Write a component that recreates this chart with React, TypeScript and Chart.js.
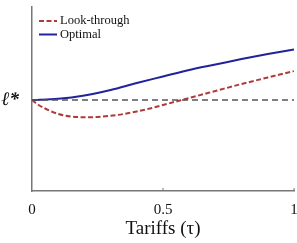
import React, { useEffect, useRef } from "react";
import { Chart, registerables } from "chart.js";

Chart.register(...registerables);

const xLook = [0, 0.025, 0.05, 0.075, 0.1, 0.15, 0.2, 0.25, 0.3, 0.35, 0.4, 0.45, 0.5, 0.55, 0.6, 0.7, 0.8, 0.9, 1.0];
const yLook = [0, -5, -8.5, -11.5, -14, -16.5, -17.3, -17, -15.8, -14, -11.5, -8.5, -5, -1.5, 2, 9, 16, 22.5, 29];
const xOpt = [0, 0.1, 0.2, 0.3, 0.4, 0.5, 0.6, 0.7, 0.8, 0.9, 1.0];
const yOpt = [0, 1.2, 4.5, 10, 17, 23.5, 30, 35.5, 41, 46, 50.5];
const baseX = [0, 1];
const baseY = [0, 0];
const xTickLabels: Record<string, string> = { "0": "0", "0.5": "0.5", "1": "1" };
const yTickLabel = "ℓ*";
const seriesLabels = ["Look-through", "Optimal"];
const xTitle = "Tariffs (τ)";

const SERIF = "'Liberation Serif', 'DejaVu Serif', serif";

const legendPlugin = {
  id: "customLegend",
  afterDraw(chart: any) {
    const { ctx, chartArea, scales } = chart;
    ctx.save();
    ctx.strokeStyle = "#777";
    ctx.lineWidth = 1;
    [0.5, 1].forEach((v) => {
      const px = scales.x.getPixelForValue(v);
      ctx.beginPath();
      ctx.moveTo(px, chartArea.bottom);
      ctx.lineTo(px, chartArea.bottom - 3);
      ctx.stroke();
    });
    const items = [
      { label: seriesLabels[0], color: "#b03a3a", dash: [5, 2.5] },
      { label: seriesLabels[1], color: "#22229a", dash: [] as number[] },
    ];
    const x0 = chartArea.left + 7;
    let y = chartArea.top + 14;
    ctx.font = `12.5px ${SERIF}`;
    ctx.textBaseline = "middle";
    items.forEach((it) => {
      ctx.strokeStyle = it.color;
      ctx.lineWidth = 2;
      ctx.setLineDash(it.dash);
      ctx.beginPath();
      ctx.moveTo(x0, y);
      ctx.lineTo(x0 + 18, y);
      ctx.stroke();
      ctx.setLineDash([]);
      ctx.fillStyle = "#111";
      ctx.fillText(it.label, x0 + 21, y);
      y += 13.5;
    });
    ctx.restore();
  },
};

export default function App() {
  const ref = useRef<HTMLCanvasElement | null>(null);
  useEffect(() => {
    document.body.style.margin = "0";
    const canvas = ref.current!;
    const chart = new Chart(canvas, {
      type: "line",
      data: {
        datasets: [
          {
            label: "baseline",
            data: baseX.map((x, i) => ({ x, y: baseY[i] })),
            borderColor: "#555",
            borderWidth: 1.5,
            borderDash: [6, 4],
            pointRadius: 0,
          },
          {
            label: seriesLabels[0],
            data: xLook.map((x, i) => ({ x, y: yLook[i] })),
            borderColor: "#b03a3a",
            borderWidth: 2,
            borderDash: [5, 2.5],
            pointRadius: 0,
            cubicInterpolationMode: "monotone",
          },
          {
            label: seriesLabels[1],
            data: xOpt.map((x, i) => ({ x, y: yOpt[i] })),
            borderColor: "#22229a",
            borderWidth: 2,
            pointRadius: 0,
            cubicInterpolationMode: "monotone",
          },
        ],
      },
      options: {
        animation: false,
        responsive: false,
        maintainAspectRatio: false,
        layout: { padding: { top: 7, right: 3, left: 0, bottom: 0 } },
        plugins: { legend: { display: false }, tooltip: { enabled: false } },
        scales: {
          x: {
            type: "linear",
            min: 0,
            max: 1,
            afterBuildTicks: (s: any) => {
              s.ticks = [{ value: 0 }, { value: 0.5 }, { value: 1 }];
            },
            afterFit: (s: any) => {
              s.height = 52;
              s.paddingLeft = 0;
              s.paddingRight = 0;
            },
            ticks: {
              color: "#111",
              font: { family: SERIF, size: 15 },
              padding: 2,
              maxRotation: 0,
              callback: (v: any) => xTickLabels[String(v)] ?? "",
            },
            grid: { display: false },
            border: { display: true, color: "#777", width: 1.5 },
            title: {
              display: true,
              text: xTitle,
              color: "#111",
              font: { family: SERIF, size: 19 },
              padding: { top: 2, bottom: 3 },
            },
          },
          y: {
            type: "linear",
            min: -91,
            max: 93,
            afterBuildTicks: (s: any) => {
              s.ticks = [{ value: 0 }];
            },
            afterFit: (s: any) => {
              s.width = 32;
              s.paddingTop = 0;
              s.paddingBottom = 0;
            },
            ticks: {
              color: "#111",
              font: { family: SERIF, size: 19, weight: "bold", style: "italic" },
              padding: 5,
              callback: () => yTickLabel,
            },
            grid: { display: false },
            border: { display: true, color: "#777", width: 1.5 },
          },
        },
      },
      plugins: [legendPlugin],
    } as any);
    return () => chart.destroy();
  }, []);
  return <canvas ref={ref} width={297} height={243} style={{ display: "block" }} />;
}
